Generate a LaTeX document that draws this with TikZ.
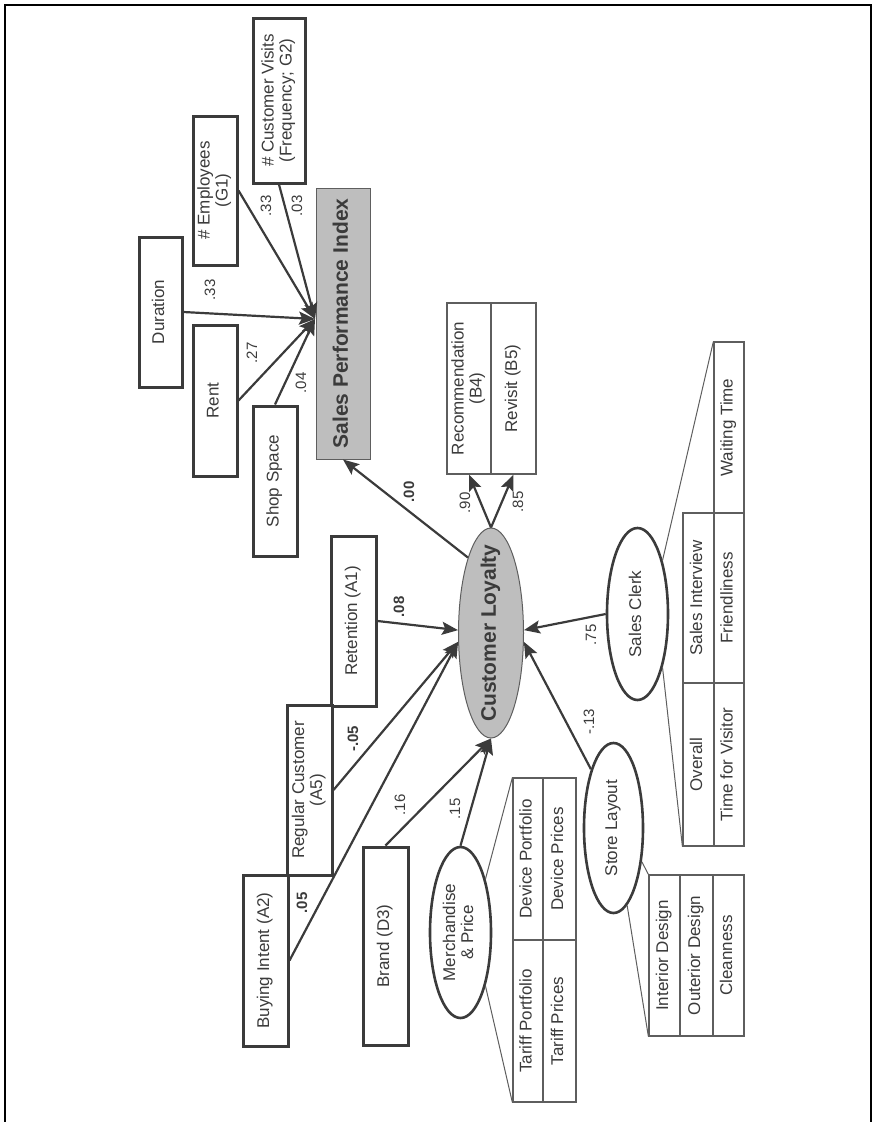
\documentclass[tikz,border=0pt]{standalone}
\usepackage{fontspec}
\setmainfont{Liberation Sans}
\usepackage{graphicx}
\usepackage{xcolor}
\usetikzlibrary{arrows.meta, shapes.geometric}
\definecolor{ink}{HTML}{3B3B3B}
\definecolor{shade}{HTML}{BEBEBE}
\definecolor{rulegray}{HTML}{5E5E5E}
\newcommand{\vtext}[1]{\rotatebox{90}{\begin{tabular}{@{}c@{}}#1\end{tabular}}}
\newcommand{\itemfont}{\fontsize{17}{18}\selectfont}
\tikzset{
    item/.style={draw=ink, line width=3pt, fill=white, inner sep=0pt, text=ink, font=\itemfont},
    cell/.style={draw=rulegray, line width=1.2pt, fill=white, inner sep=0pt, text=ink, font=\itemfont},
    construct/.style={ellipse, draw=ink, line width=2.6pt, fill=white, inner sep=-30pt, text=ink, font=\itemfont},
    core/.style={fill=shade, draw=rulegray, line width=1pt, inner sep=-30pt, text=ink, font=\bfseries\fontsize{21}{24}\selectfont},
    effect/.style={draw=ink, line width=2.2pt, -{Stealth[length=16pt, width=13pt, inset=3pt]}},
    fan/.style={draw=rulegray, line width=1pt},
    coef/.style={inner sep=0pt, text=ink, font=\fontsize{15}{17}\selectfont}
}

\begin{document}
\begin{tikzpicture}[x=1pt, y=-1pt]
    \useasboundingbox (0,0) rectangle (874,1122);
    \draw[line width=2.5pt] (5,1122) -- (5,5) -- (871,5) -- (871,1122);

    % sales side
    \node[core, minimum width=54pt, minimum height=271pt] (SPI) at (343,323.5) {\vtext{Sales Performance Index}};
    \node[item, minimum width=43pt, minimum height=150pt] (dur) at (160.5,312) {\vtext{Duration}};
    \node[item, minimum width=44pt, minimum height=149pt] (emp) at (215,190.5) {\vtext{\# Employees\\(G1)}};
    \node[item, minimum width=52pt, minimum height=165pt] (visits) at (279,100.5) {\vtext{\# Customer Visits\\(Frequency; G2)}};
    \node[item, minimum width=44pt, minimum height=151pt] (rent) at (215,400.5) {\vtext{Rent}};
    \node[item, minimum width=44pt, minimum height=150pt] (shop) at (275,481) {\vtext{Shop Space}};
    \coordinate (hub) at (315,319);

    % loyalty side
    \node[core, ellipse, minimum width=65pt, minimum height=210pt] (CL) at (491,633) {\vtext{Customer Loyalty}};
    \node[item, minimum width=45pt, minimum height=170pt] (ret) at (353.5,621) {\vtext{Retention (A1)}};
    \node[item, minimum width=45pt, minimum height=170pt] (reg) at (309.5,790) {\vtext{Regular Customer\\(A5)}};
    \node[item, minimum width=45pt, minimum height=171pt] (buy) at (265.5,960.5) {\vtext{Buying Intent (A2)}};
    \node[item, minimum width=45pt, minimum height=198pt] (brand) at (385.5,946) {\vtext{Brand (D3)}};
    \node[cell, minimum width=44pt, minimum height=171pt] (rec) at (469,388.5) {\vtext{Recommendation\\(B4)}};
    \node[cell, minimum width=45pt, minimum height=171pt] (rev) at (513.5,388.5) {\vtext{Revisit (B5)}};

    % drivers
    \node[construct, minimum width=61pt, minimum height=171pt] (MP) at (460.5,932.5) {\vtext{Merchandise\\\& Price}};
    \node[construct, minimum width=59pt, minimum height=170pt] (SL) at (613.5,828) {\vtext{Store Layout}};
    \node[construct, minimum width=61pt, minimum height=172pt] (SC) at (637.5,614) {\vtext{Sales Clerk}};

    \node[cell, minimum width=30pt, minimum height=162pt] (devport) at (528,859) {\vtext{Device Portfolio}};
    \node[cell, minimum width=33pt, minimum height=162pt] (devprice) at (559.5,859) {\vtext{Device Prices}};
    \node[cell, minimum width=30pt, minimum height=162pt] (tarport) at (528,1021) {\vtext{Tariff Portfolio}};
    \node[cell, minimum width=33pt, minimum height=162pt] (tarprice) at (559.5,1021) {\vtext{Tariff Prices}};

    \node[cell, minimum width=31pt, minimum height=161pt] (interior) at (664.5,955.5) {\vtext{Interior Design}};
    \node[cell, minimum width=33pt, minimum height=161pt] (outer) at (696.5,955.5) {\vtext{Outerior Design}};
    \node[cell, minimum width=31pt, minimum height=161pt] (clean) at (728.5,955.5) {\vtext{Cleanness}};

    \node[cell, minimum width=30pt, minimum height=171pt] (wait) at (729,427.5) {\vtext{Waiting Time}};
    \node[cell, minimum width=31pt, minimum height=170pt] (interview) at (698.5,598) {\vtext{Sales Interview}};
    \node[cell, minimum width=30pt, minimum height=170pt] (friend) at (729,598) {\vtext{Friendliness}};
    \node[cell, minimum width=31pt, minimum height=163pt] (overall) at (698.5,764.5) {\vtext{Overall}};
    \node[cell, minimum width=30pt, minimum height=163pt] (visitor) at (729,764.5) {\vtext{Time for Visitor}};

    \draw[fan] (MP.65) -- (devport.north west);
    \draw[fan] (MP.-65) -- (tarport.south west);
    \draw[fan] (SL.-50) -- (interior.north west);
    \draw[fan] (SL.-80) -- (interior.south west);
    \draw[fan] (SC.65) -- (wait.north west);
    \draw[fan] (SC.-65) -- (overall.south west);

    % paths
    \draw[effect] (dur.east) -- (hub);
    \draw[effect] (emp.east) -- (hub);
    \draw[effect] (visits.south) -- (hub);
    \draw[effect] (rent.east) -- (hub);
    \draw[effect] (shop.north) -- (hub);
    \draw[effect] (CL.107) -- (SPI.south);
    \draw[effect] (CL.north) -- (rec.south);
    \draw[effect] (CL.north) -- (rev.south);
    \draw[effect] (ret.east) -- (CL.175);
    \draw[effect] (reg.east) -- (CL.195);
    \draw[effect] (buy.east) -- (CL.195);
    \draw[effect] (brand.north) -- (CL.south);
    \draw[effect] (MP.north) -- (CL.south);
    \draw[effect] (SC.west) -- (CL.5);
    \draw[effect] (SL.111) -- (CL.-15);

    \node[coef] (c-dur) at (210,290) {\rotatebox{90}{.33}};
    \node[coef] (c-emp) at (266,206) {\rotatebox{90}{.33}};
    \node[coef] (c-visits) at (297,206) {\rotatebox{90}{.03}};
    \node[coef] (c-rent) at (252,353) {\rotatebox{90}{.27}};
    \node[coef] (c-shop) at (301,383) {\rotatebox{90}{.04}};
    \node[coef] (c-spi) at (409,492) {\rotatebox{90}{\textbf{.00}}};
    \node[coef] (c-ret) at (399,607) {\rotatebox{90}{\textbf{.08}}};
    \node[coef] (c-reg) at (353,739) {\rotatebox{90}{\textbf{-.05}}};
    \node[coef] (c-buy) at (302,903) {\rotatebox{90}{\textbf{.05}}};
    \node[coef] (c-brand) at (400,805) {\rotatebox{90}{.16}};
    \node[coef] (c-mp) at (455,809) {\rotatebox{90}{.15}};
    \node[coef] (c-rec) at (465,503) {\rotatebox{90}{.90}};
    \node[coef] (c-rev) at (518,502) {\rotatebox{90}{.85}};
    \node[coef] (c-sc) at (591,635) {\rotatebox{90}{.75}};
    \node[coef] (c-sl) at (589,722) {\rotatebox{90}{-.13}};
\end{tikzpicture}
\end{document}
